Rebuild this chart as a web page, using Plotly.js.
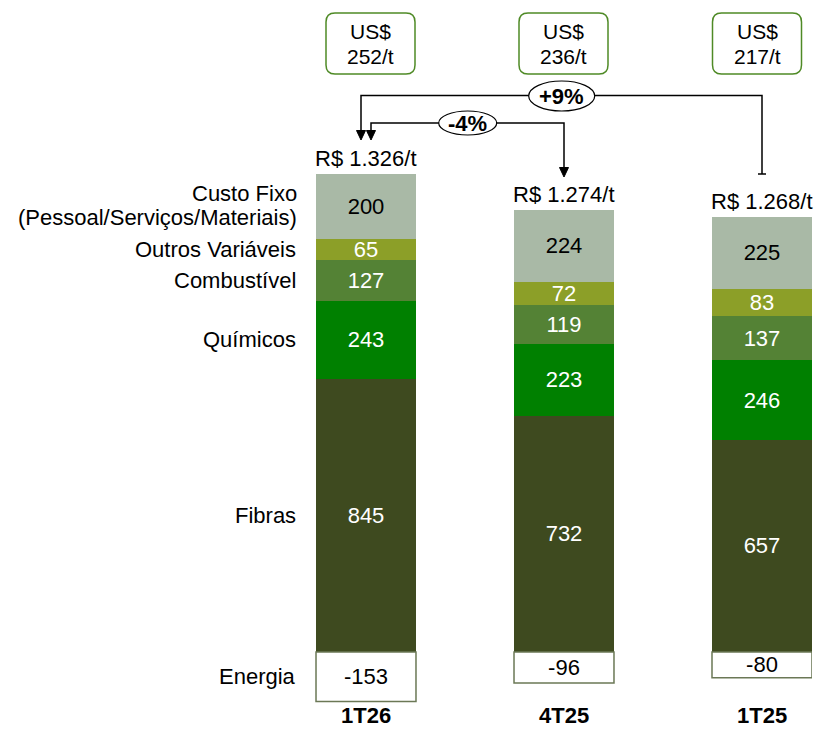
<!DOCTYPE html>
<html>
<head>
<meta charset="utf-8">
<script src="https://cdn.plot.ly/plotly-3.0.1.min.js"></script>
<style>html,body{margin:0;padding:0;background:#fff;}#chart{width:816px;height:729px;}</style>
</head>
<body>
<div id="chart"></div>
<script>
// ---- data ----
const periods = ['1T26', '4T25', '1T25'];
const fibras = [845, 732, 657];
const quimicos = [243, 223, 246];
const combustivel = [127, 119, 137];
const outrosVariaveis = [65, 72, 83];
const custoFixo = [200, 224, 225];
const energia = [-153, -96, -80];
const totalLabels = ['R$ 1.326/t', 'R$ 1.274/t', 'R$ 1.268/t'];
const usdLabels = ['252/t', '236/t', '217/t'];
const changeLabels = ['+9%', '-4%'];
const seriesNames = ['Fibras', 'Químicos', 'Combustível', 'Outros Variáveis', 'Custo Fixo', 'Energia'];

// ---- layout geometry ----
const FONT = 'Liberation Sans, Arial, sans-serif';
const FS = 22;
const L = 266, R = 4, T = 0, B = 0, WIDTH = 816, HEIGHT = 729;
const W = WIDTH - L - R, H = HEIGHT - T - B;
const px = v => (v - L) / W;
const py = v => 1 - (v - T) / H;

const xs = periods.map((_, i) => i);
const series = [
  {name: seriesNames[0], y: fibras, color: '#3e4a1f', text: '#ffffff'},
  {name: seriesNames[1], y: quimicos, color: '#008000', text: '#ffffff'},
  {name: seriesNames[2], y: combustivel, color: '#548235', text: '#ffffff'},
  {name: seriesNames[3], y: outrosVariaveis, color: '#8c9f28', text: '#ffffff'},
  {name: seriesNames[4], y: custoFixo, color: '#a9b9a6', text: '#000000'},
  {name: seriesNames[5], y: energia, color: '#ffffff', text: '#000000', line: '#6b7856'}
];

const traces = series.map(s => ({
  type: 'bar', x: xs, y: s.y, name: s.name, width: 0.505,
  marker: {color: s.color, line: {color: s.line || s.color, width: s.line ? 1.5 : 0}},
  text: s.y.map(v => String(v)), textposition: 'inside', insidetextanchor: 'middle',
  constraintext: 'none', textangle: 0,
  textfont: {family: FONT, size: FS, color: s.text},
  hoverinfo: 'skip', showlegend: false
}));

const posTotals = xs.map(i => fibras[i] + quimicos[i] + combustivel[i] + outrosVariaveis[i] + custoFixo[i]);

const annotations = [];
// total labels above bars
xs.forEach(i => annotations.push({
  x: i, y: posTotals[i], xref: 'x', yref: 'y', text: totalLabels[i], showarrow: false,
  xanchor: 'center', yanchor: 'bottom', yshift: 1, font: {family: FONT, size: FS, color: '#000'}
}));
// period labels
xs.forEach(i => annotations.push({
  x: i, y: 0, xref: 'x', yref: 'paper', text: '<b>' + periods[i] + '</b>', showarrow: false,
  xanchor: 'center', yanchor: 'bottom', borderpad: 0, yshift: 0, font: {family: FONT, size: FS, color: '#000'}
}));
// left series labels at midpoints of first bar
let cum = 0;
const mids = [];
[fibras, quimicos, combustivel, outrosVariaveis, custoFixo].forEach(arr => {
  mids.push(cum + arr[0] / 2); cum += arr[0];
});
const leftLabelX = px(298);
const leftNames = ['Fibras', 'Químicos', 'Combustível', 'Outros Variáveis'];
leftNames.forEach((n, k) => annotations.push({
  x: leftLabelX, y: mids[k], xref: 'paper', yref: 'y', text: n, showarrow: false,
  xanchor: 'right', yanchor: 'middle', font: {family: FONT, size: FS, color: '#000'}
}));
annotations.push({x: leftLabelX, y: mids[4], xref: 'paper', yref: 'y', text: 'Custo Fixo', showarrow: false,
  xanchor: 'right', yanchor: 'middle', yshift: 13, borderpad: 0, font: {family: FONT, size: FS, color: '#000'}});
annotations.push({x: leftLabelX, y: mids[4], xref: 'paper', yref: 'y', text: '(Pessoal/Serviços/Materiais)', showarrow: false,
  xanchor: 'right', yanchor: 'middle', yshift: -11, borderpad: 0, font: {family: FONT, size: FS, color: '#000'}});
annotations.push({x: leftLabelX, y: energia[0] / 2, xref: 'paper', yref: 'y', text: 'Energia', showarrow: false,
  xanchor: 'right', yanchor: 'middle', font: {family: FONT, size: FS, color: '#000'}});

// US$ boxes
const boxCx = [370.5, 563.5, 757];
const boxCy = 43.5, boxW = 89, boxH = 61, rad = 9;
const shapes = [];
const rr = (w, h, r) => {
  const a = w / 2, b = h / 2;
  return `M ${-a + r},${-b} L ${a - r},${-b} Q ${a},${-b} ${a},${-b + r} L ${a},${b - r} Q ${a},${b} ${a - r},${b} ` +
         `L ${-a + r},${b} Q ${-a},${b} ${-a},${b - r} L ${-a},${-b + r} Q ${-a},${-b} ${-a + r},${-b} Z`;
};
boxCx.forEach((cx, i) => {
  shapes.push({type: 'path', xref: 'paper', yref: 'paper', xsizemode: 'pixel', ysizemode: 'pixel',
    xanchor: px(cx), yanchor: py(boxCy), path: rr(boxW, boxH, rad),
    line: {color: '#4f8a26', width: 1.5}, fillcolor: '#ffffff', layer: 'above'});
  annotations.push({x: px(cx), y: py(32), xref: 'paper', yref: 'paper', text: 'US$', showarrow: false,
    xanchor: 'center', yanchor: 'middle', borderpad: 0, font: {family: FONT, size: 21, color: '#000'}});
  annotations.push({x: px(cx), y: py(57), xref: 'paper', yref: 'paper', text: usdLabels[i], showarrow: false,
    xanchor: 'center', yanchor: 'middle', borderpad: 0, font: {family: FONT, size: 21, color: '#000'}});
});

// connector lines
const pth = pts => pts.map((p, k) => (k ? 'L ' : 'M ') + px(p[0]) + ',' + py(p[1])).join(' ');
const lineStyle = {color: '#000', width: 1.5};
shapes.push({type: 'path', xref: 'paper', yref: 'paper', path: pth([[361, 132], [361, 95.5], [762, 95.5], [762, 174]]), line: lineStyle});
shapes.push({type: 'path', xref: 'paper', yref: 'paper', path: pth([[758, 174], [766, 174]]), line: lineStyle});
shapes.push({type: 'path', xref: 'paper', yref: 'paper', path: pth([[371, 132], [371, 123], [564, 123], [564, 168]]), line: lineStyle});
// arrowheads
const head = (x, tip) => pth([[x - 4.5, tip - 9.5], [x + 4.5, tip - 9.5], [x, tip]]) + ' Z';
[[361, 140], [371, 140], [564, 177]].forEach(h => shapes.push({type: 'path', xref: 'paper', yref: 'paper',
  path: head(h[0], h[1]), fillcolor: '#000', line: {color: '#000', width: 1}}));
// ellipses
const ell = [[561.7, 96, 66, 30], [467.7, 123, 58, 24]];
ell.forEach((e, k) => {
  shapes.push({type: 'circle', xref: 'paper', yref: 'paper', xsizemode: 'pixel', ysizemode: 'pixel',
    xanchor: px(e[0]), yanchor: py(e[1]), x0: -e[2] / 2, x1: e[2] / 2, y0: -e[3] / 2, y1: e[3] / 2,
    fillcolor: '#fff', line: {color: '#000', width: 1.2}});
  annotations.push({x: px(e[0]), y: py(e[1]), xref: 'paper', yref: 'paper', text: '<b>' + changeLabels[k] + '</b>',
    showarrow: false, xanchor: 'center', yanchor: 'middle', borderpad: 0, font: {family: FONT, size: FS, color: '#000'}});
});

const scale = 478 / 1480; // px per unit
const yTop = 652 / scale, yBot = -(H - 652) / scale;

const layout = {
  width: WIDTH, height: HEIGHT,
  margin: {l: L, r: R, t: T, b: B, pad: 0},
  paper_bgcolor: '#fff', plot_bgcolor: '#fff',
  barmode: 'relative', bargap: 0,
  xaxis: {visible: false, range: [-100 / 198, -100 / 198 + W / 198], fixedrange: true},
  yaxis: {visible: false, range: [yBot, yTop], fixedrange: true},
  showlegend: false,
  shapes: shapes,
  annotations: annotations,
  font: {family: FONT}
};

Plotly.newPlot('chart', traces, layout, {staticPlot: true, displayModeBar: false});
</script>
</body>
</html>
